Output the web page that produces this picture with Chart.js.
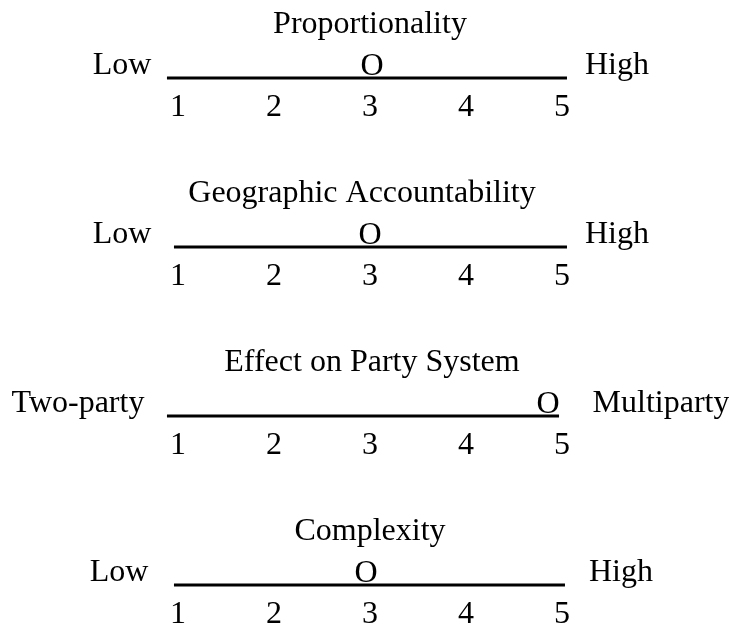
<!DOCTYPE html>
<html>
<head>
<meta charset="utf-8">
<script src="https://cdn.jsdelivr.net/npm/chart.js@4.4.0/dist/chart.umd.min.js"></script>
<style>
  html, body { margin: 0; padding: 0; background: #ffffff; }
  #wrap { width: 729px; height: 628px; }
</style>
</head>
<body>
<div id="wrap"><canvas id="c" width="729" height="628"></canvas></div>
<script>
// ---- data ----
const titles = ["Proportionality", "Geographic Accountability", "Effect on Party System", "Complexity"];
const leftLabels = ["Low", "Low", "Two-party", "Low"];
const rightLabels = ["High", "High", "Multiparty", "High"];
const markerValues = [3.02, 3.0, 4.85, 2.96];
const lineStarts = [0.885, 0.958, 0.885, 0.958];
const lineEnds = [5.052, 5.052, 4.969, 5.031];
const tickLabels = ["1", "2", "3", "4", "5"];
const tickValues = [1, 2, 3, 4, 5];

// ---- layout (pixel offsets / styling) ----
const FONT = '32px "Liberation Serif", "Times New Roman", serif';
const leftLabelCenters = [122, 122, 78, 119];
const rightLabelCenters = [617, 617, 661, 621];
const titleCenters = [370, 362, 372, 370];

const datasets = [];
titles.forEach((t, i) => {
  datasets.push({
    type: 'line',
    data: [{x: lineStarts[i], y: i}, {x: lineEnds[i], y: i}],
    borderColor: '#000',
    borderWidth: 3,
    pointRadius: 0,
    fill: false
  });
});

const textPlugin = {
  id: 'textPlugin',
  afterDatasetsDraw(chart) {
    const ctx = chart.ctx;
    const xs = chart.scales.x, ys = chart.scales.y;
    ctx.save();
    ctx.font = FONT;
    ctx.fillStyle = '#000';
    ctx.textBaseline = 'alphabetic';
    ctx.textAlign = 'center';
    titles.forEach((t, i) => {
      const ly = ys.getPixelForValue(i);
      ctx.fillText(t, titleCenters[i], ly - 45);
      ctx.fillText(leftLabels[i], leftLabelCenters[i], ly - 4);
      ctx.fillText(rightLabels[i], rightLabelCenters[i], ly - 4);
      ctx.fillText('O', Math.round(xs.getPixelForValue(markerValues[i])), ly - 3);
      tickValues.forEach((v, k) => {
        ctx.fillText(tickLabels[k], xs.getPixelForValue(v), ly + 38);
      });
    });
    ctx.restore();
  }
};

const bgPlugin = {
  id: 'bg',
  beforeDraw(chart) {
    const ctx = chart.ctx;
    ctx.save();
    ctx.fillStyle = '#fff';
    ctx.fillRect(0, 0, chart.width, chart.height);
    ctx.restore();
  }
};

new Chart(document.getElementById('c'), {
  type: 'scatter',
  data: { datasets },
  options: {
    responsive: false,
    animation: false,
    layout: { padding: 0, autoPadding: false },
    plugins: { legend: { display: false }, tooltip: { enabled: false }, title: { display: false } },
    scales: {
      x: { type: 'linear', display: false, min: 1 - 178 / 96, max: 1 + 551 / 96 },
      y: { type: 'linear', display: false, reverse: true, min: -78 / 169, max: -78 / 169 + 628 / 169 }
    }
  },
  plugins: [bgPlugin, textPlugin]
});
</script>
</body>
</html>
